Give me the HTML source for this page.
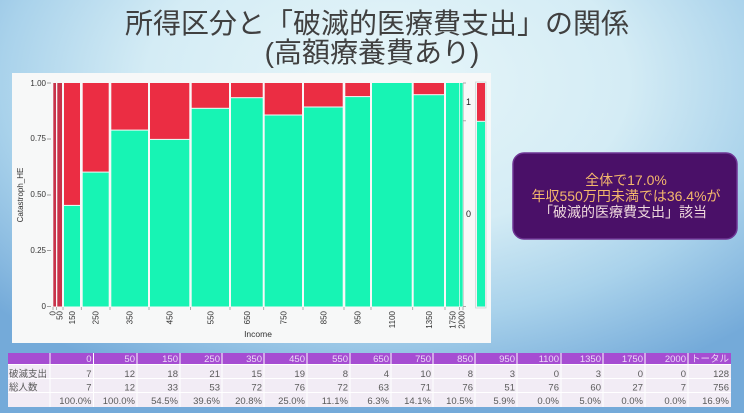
<!DOCTYPE html>
<html><head><meta charset="utf-8">
<style>
html,body{margin:0;padding:0;}
body{width:744px;height:413px;overflow:hidden;
background:radial-gradient(ellipse 72% 80% at 52% 20%, #e7f6f9 0%, #d4ecf5 45%, #a9d2eb 72%, #74aad9 100%);}
svg{display:block;position:absolute;left:0;top:0;}
text{font-family:"Liberation Sans","Noto Sans CJK JP",sans-serif;}
</style></head>
<body>
<svg width="744" height="413" viewBox="0 0 744 413" xmlns="http://www.w3.org/2000/svg">
<!-- Title -->
<text x="377" y="33" text-anchor="middle" font-size="28" fill="#404040">所得区分と「破滅的医療費支出」の関係</text>
<text x="372" y="62" text-anchor="middle" font-size="28" fill="#404040">(高額療養費あり)</text>

<!-- Chart panel -->
<rect x="12" y="73" width="479" height="270" fill="#f7f8f8"/>

<!-- Y axis labels -->
<g font-size="8" fill="#333" text-anchor="end">
<text x="46" y="86">1.00</text>
<text x="46" y="141">0.75</text>
<text x="46" y="197">0.50</text>
<text x="46" y="253">0.25</text>
<text x="46" y="309">0</text>
</g>
<g stroke="#888" stroke-width="0.8">
<line x1="47" y1="83" x2="51" y2="83"/>
<line x1="47" y1="139" x2="51" y2="139"/>
<line x1="47" y1="195" x2="51" y2="195"/>
<line x1="47" y1="250.6" x2="51" y2="250.6"/>
<line x1="47" y1="306.5" x2="51" y2="306.5"/>
</g>
<text transform="translate(23,195) rotate(-90)" text-anchor="middle" font-size="8" fill="#333">Catastroph_HE</text>

<!-- Bars -->
<g>
<rect x="53.3" y="83" width="2.7" height="223.5" fill="#c8324a"/>
<rect x="57.3" y="83" width="4.7" height="223.5" fill="#c8324a"/>

<rect x="64" y="83" width="16" height="121.9" fill="#eb2d43"/>
<rect x="64" y="205.9" width="16" height="100.6" fill="#17f4b4"/>

<rect x="82.7" y="83" width="26" height="88.6" fill="#eb2d43"/>
<rect x="82.7" y="172.6" width="26" height="133.9" fill="#17f4b4"/>

<rect x="111.3" y="83" width="36.7" height="46.6" fill="#eb2d43"/>
<rect x="111.3" y="130.6" width="36.7" height="175.9" fill="#17f4b4"/>

<rect x="150" y="83" width="39.3" height="55.9" fill="#eb2d43"/>
<rect x="150" y="139.9" width="39.3" height="166.6" fill="#17f4b4"/>

<rect x="191.7" y="83" width="37.3" height="24.8" fill="#eb2d43"/>
<rect x="191.7" y="108.8" width="37.3" height="197.7" fill="#17f4b4"/>

<rect x="231" y="83" width="31.7" height="14.2" fill="#eb2d43"/>
<rect x="231" y="98.2" width="31.7" height="208.3" fill="#17f4b4"/>

<rect x="264.7" y="83" width="37.3" height="31.5" fill="#eb2d43"/>
<rect x="264.7" y="115.5" width="37.3" height="191" fill="#17f4b4"/>

<rect x="304" y="83" width="38.7" height="23.5" fill="#eb2d43"/>
<rect x="304" y="107.5" width="38.7" height="199" fill="#17f4b4"/>

<rect x="345.3" y="83" width="24.7" height="13.1" fill="#eb2d43"/>
<rect x="345.3" y="97.1" width="24.7" height="209.4" fill="#17f4b4"/>

<rect x="372" y="83" width="39.7" height="223.5" fill="#17f4b4"/>

<rect x="413.7" y="83" width="30.3" height="11.2" fill="#eb2d43"/>
<rect x="413.7" y="95.2" width="30.3" height="211.3" fill="#17f4b4"/>

<rect x="446" y="83" width="13.3" height="223.5" fill="#17f4b4"/>
<rect x="460" y="83" width="2.7" height="223.5" fill="#17f4b4"/>
</g>

<!-- X ticks -->
<g stroke="#999" stroke-width="0.8">
<line x1="53" y1="307" x2="53" y2="310"/>
<line x1="56.6" y1="307" x2="56.6" y2="310"/>
<line x1="63" y1="307" x2="63" y2="310"/>
<line x1="81.3" y1="307" x2="81.3" y2="310"/>
<line x1="110" y1="307" x2="110" y2="310"/>
<line x1="149" y1="307" x2="149" y2="310"/>
<line x1="190.5" y1="307" x2="190.5" y2="310"/>
<line x1="230" y1="307" x2="230" y2="310"/>
<line x1="263.7" y1="307" x2="263.7" y2="310"/>
<line x1="303" y1="307" x2="303" y2="310"/>
<line x1="344" y1="307" x2="344" y2="310"/>
<line x1="371" y1="307" x2="371" y2="310"/>
<line x1="412.7" y1="307" x2="412.7" y2="310"/>
<line x1="445" y1="307" x2="445" y2="310"/>
<line x1="459.6" y1="307" x2="459.6" y2="310"/>
<line x1="463" y1="307" x2="463" y2="310"/>
</g>
<g font-size="8" fill="#333" text-anchor="end">
<text transform="translate(55.5,311) rotate(-90)">0</text>
<text transform="translate(62.5,311) rotate(-90)">50</text>
<text transform="translate(75,311) rotate(-90)">150</text>
<text transform="translate(98.7,311) rotate(-90)">250</text>
<text transform="translate(132.7,311) rotate(-90)">350</text>
<text transform="translate(172.7,311) rotate(-90)">450</text>
<text transform="translate(213.4,311) rotate(-90)">550</text>
<text transform="translate(249.9,311) rotate(-90)">650</text>
<text transform="translate(286.4,311) rotate(-90)">750</text>
<text transform="translate(326.4,311) rotate(-90)">850</text>
<text transform="translate(360.7,311) rotate(-90)">950</text>
<text transform="translate(394.9,311) rotate(-90)">1100</text>
<text transform="translate(431.9,311) rotate(-90)">1350</text>
<text transform="translate(455.7,311) rotate(-90)">1750</text>
<text transform="translate(464.4,311) rotate(-90)">2000</text>
</g>
<text x="258" y="337" text-anchor="middle" font-size="8.5" fill="#333">Income</text>

<!-- Right axis -->
<line x1="463.3" y1="83" x2="463.3" y2="306.5" stroke="#bbb" stroke-width="0.6"/>
<g stroke="#999" stroke-width="0.8">
<line x1="463" y1="83" x2="466" y2="83"/>
<line x1="463" y1="120.8" x2="466" y2="120.8"/>
<line x1="463" y1="306.5" x2="466" y2="306.5"/>
</g>
<text x="466" y="105" font-size="9" fill="#222">1</text>
<text x="466" y="217" font-size="9" fill="#222">0</text>

<!-- Right summary bar -->
<rect x="475.5" y="82" width="10.5" height="226" fill="#f2f4f4" stroke="#cfd6d6" stroke-width="0.8"/>
<rect x="477" y="83" width="8" height="37.8" fill="#eb2d43"/>
<rect x="477" y="121.8" width="8" height="184.7" fill="#17f4b4"/>

<!-- Purple callout -->
<rect x="513" y="153" width="224" height="86" rx="11" ry="11" fill="#4a1068" stroke="#6e3594" stroke-width="1.5"/>
<text x="626" y="185" text-anchor="middle" font-size="14" fill="#f4b86c">全体で17.0%</text>
<text x="626" y="201" text-anchor="middle" font-size="14" fill="#f4b86c">年収550万円未満では36.4%が</text>
<text x="623" y="217" text-anchor="middle" font-size="14" fill="#efd8dc">「破滅的医療費支出」該当</text>

<!-- Table -->
<rect x="8" y="353" width="723" height="11" fill="#a64dd2"/>
<rect x="8" y="364" width="723" height="43" fill="#f2ecf5"/>
<g stroke="#ffffff" stroke-width="1">
<line x1="8" y1="364.5" x2="731" y2="364.5"/>
<line x1="8" y1="378.5" x2="731" y2="378.5"/>
<line x1="8" y1="392.5" x2="731" y2="392.5"/>
<line x1="50" y1="353" x2="50" y2="407"/>
<line x1="93.5" y1="353" x2="93.5" y2="407"/>
<line x1="137" y1="353" x2="137" y2="407"/>
<line x1="180" y1="353" x2="180" y2="407"/>
<line x1="222" y1="353" x2="222" y2="407"/>
<line x1="264" y1="353" x2="264" y2="407"/>
<line x1="307" y1="353" x2="307" y2="407"/>
<line x1="350" y1="353" x2="350" y2="407"/>
<line x1="391" y1="353" x2="391" y2="407"/>
<line x1="433" y1="353" x2="433" y2="407"/>
<line x1="475" y1="353" x2="475" y2="407"/>
<line x1="517" y1="353" x2="517" y2="407"/>
<line x1="561" y1="353" x2="561" y2="407"/>
<line x1="603" y1="353" x2="603" y2="407"/>
<line x1="645" y1="353" x2="645" y2="407"/>
<line x1="688" y1="353" x2="688" y2="407"/>
</g>
<g font-size="9.5" fill="#ecd9f7" text-anchor="end">
<text x="91.5" y="362">0</text>
<text x="135" y="362">50</text>
<text x="178" y="362">150</text>
<text x="220" y="362">250</text>
<text x="262" y="362">350</text>
<text x="305" y="362">450</text>
<text x="348" y="362">550</text>
<text x="389" y="362">650</text>
<text x="431" y="362">750</text>
<text x="473" y="362">850</text>
<text x="515" y="362">950</text>
<text x="559" y="362">1100</text>
<text x="601" y="362">1350</text>
<text x="643" y="362">1750</text>
<text x="686" y="362">2000</text>
<text x="729" y="362">トータル</text>
</g>
<g font-size="9.5" fill="#5a5a5a">
<text x="9" y="377">破滅支出</text>
<text x="9" y="390.5">総人数</text>
</g>
<g font-size="9.5" fill="#5a5a5a" text-anchor="end">
<text x="91.5" y="377">7</text><text x="135" y="377">12</text><text x="178" y="377">18</text><text x="220" y="377">21</text><text x="262" y="377">15</text><text x="305" y="377">19</text><text x="348" y="377">8</text><text x="389" y="377">4</text><text x="431" y="377">10</text><text x="473" y="377">8</text><text x="515" y="377">3</text><text x="559" y="377">0</text><text x="601" y="377">3</text><text x="643" y="377">0</text><text x="686" y="377">0</text><text x="729" y="377">128</text>
<text x="91.5" y="390.5">7</text><text x="135" y="390.5">12</text><text x="178" y="390.5">33</text><text x="220" y="390.5">53</text><text x="262" y="390.5">72</text><text x="305" y="390.5">76</text><text x="348" y="390.5">72</text><text x="389" y="390.5">63</text><text x="431" y="390.5">71</text><text x="473" y="390.5">76</text><text x="515" y="390.5">51</text><text x="559" y="390.5">76</text><text x="601" y="390.5">60</text><text x="643" y="390.5">27</text><text x="686" y="390.5">7</text><text x="729" y="390.5">756</text>
<text x="91.5" y="404">100.0%</text><text x="135" y="404">100.0%</text><text x="178" y="404">54.5%</text><text x="220" y="404">39.6%</text><text x="262" y="404">20.8%</text><text x="305" y="404">25.0%</text><text x="348" y="404">11.1%</text><text x="389" y="404">6.3%</text><text x="431" y="404">14.1%</text><text x="473" y="404">10.5%</text><text x="515" y="404">5.9%</text><text x="559" y="404">0.0%</text><text x="601" y="404">5.0%</text><text x="643" y="404">0.0%</text><text x="686" y="404">0.0%</text><text x="729" y="404">16.9%</text>
</g>
</svg>
</body></html>
